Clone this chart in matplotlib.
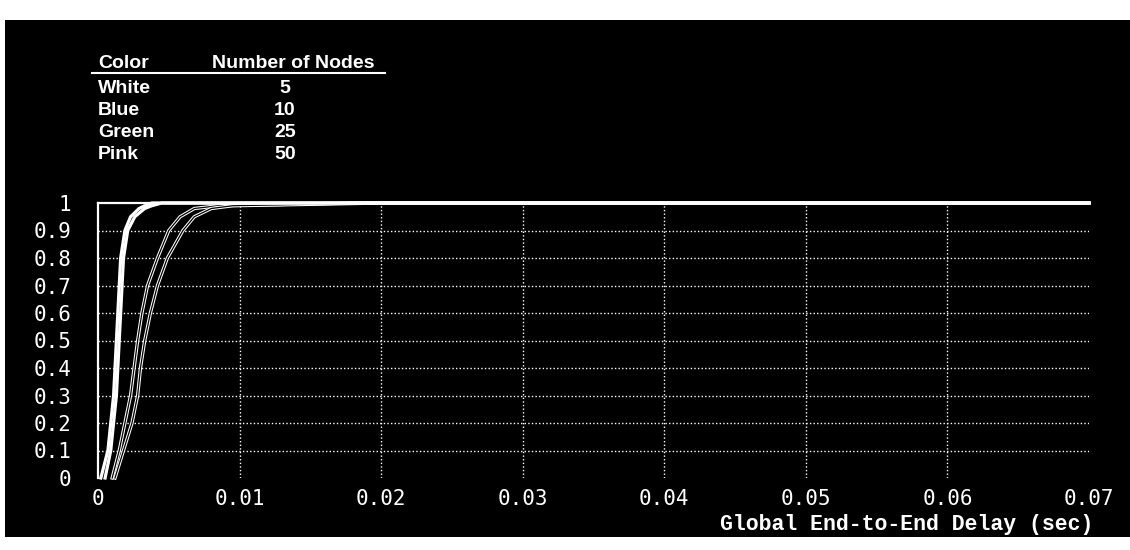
import matplotlib
matplotlib.use("Agg")
import matplotlib.pyplot as plt
from matplotlib.patches import Rectangle
from matplotlib.lines import Line2D

# cumulative fraction of packets vs. global end-to-end delay (sec)
cdf_levels = [0, 0.1, 0.2, 0.3, 0.4, 0.5, 0.6, 0.7, 0.8, 0.9, 0.95, 0.98, 0.99, 1.0, 1.0]
delay_white = [0.0002, 0.0007, 0.0009, 0.0011, 0.0012, 0.0013, 0.0014, 0.0015, 0.0016,
               0.0019, 0.0023, 0.0029, 0.0033, 0.0038, 0.07]
delay_blue = [0.0005, 0.0009, 0.0011, 0.0013, 0.0014, 0.0015, 0.0016, 0.0017, 0.0018,
              0.0021, 0.0026, 0.0033, 0.0038, 0.0045, 0.07]
delay_green = [0.0010, 0.0015, 0.0019, 0.0023, 0.00255, 0.0028, 0.0031, 0.0035, 0.0042,
               0.0050, 0.0058, 0.0068, 0.0085, 0.018, 0.07]
delay_pink = [0.0012, 0.0018, 0.0024, 0.0028, 0.0030, 0.0033, 0.0037, 0.0042, 0.0049,
              0.0060, 0.0068, 0.0080, 0.0095, 0.020, 0.07]

legend_colors = ["White", "Blue", "Green", "Pink"]
legend_nodes = ["5", "10", "25", "50"]

x_ticks = [0, 0.01, 0.02, 0.03, 0.04, 0.05, 0.06, 0.07]
x_ticklabels = ["0", "0.01", "0.02", "0.03", "0.04", "0.05", "0.06", "0.07"]
y_ticks = [0, 0.1, 0.2, 0.3, 0.4, 0.5, 0.6, 0.7, 0.8, 0.9, 1.0]
y_ticklabels = ["0", "0.1", "0.2", "0.3", "0.4", "0.5", "0.6", "0.7", "0.8", "0.9", "1"]

W, H = 1130, 550
fig = plt.figure(figsize=(W / 100, H / 100), dpi=100, facecolor="white")

def fx(px):
    return px / W

def fy(py):
    return 1 - py / H

# black screen area behind everything
fig.patches.append(Rectangle((fx(5), fy(537)), 1 - fx(5), fy(20) - fy(537),
                             transform=fig.transFigure, facecolor="black",
                             edgecolor="none", zorder=-5))

ax = fig.add_axes([fx(98), fy(478), fx(1089) - fx(98), fy(203) - fy(478)])
ax.set_facecolor("black")

ax.set_xlim(0, 0.07)
ax.set_ylim(0, 1.0)

ax.grid(True, color="white", linestyle=(0, (1, 1.6)), linewidth=1.0)
ax.set_axisbelow(True)

ax.plot(delay_white, cdf_levels, color="white", lw=2.3, clip_on=False, zorder=3)
ax.plot(delay_blue, cdf_levels, color="white", lw=2.3, clip_on=False, zorder=3)
for d in (delay_green, delay_pink):
    ax.plot(d, cdf_levels, color="white", lw=2.4, clip_on=False, zorder=2)
    ax.plot(d, cdf_levels, color="black", lw=0.9, clip_on=False, zorder=2)

for side in ("right", "bottom"):
    ax.spines[side].set_visible(False)
for side in ("left", "top"):
    ax.spines[side].set_color("white")
    ax.spines[side].set_linewidth(1.6)

ax.set_xticks(x_ticks)
ax.set_xticklabels(x_ticklabels)
ax.set_yticks(y_ticks)
ax.set_yticklabels(y_ticklabels)
ax.tick_params(axis="both", length=0, colors="white", labelsize=15)
ax.tick_params(axis="x", pad=8)
ax.tick_params(axis="y", pad=19)
for lab in ax.get_xticklabels() + ax.get_yticklabels():
    lab.set_family("DejaVu Sans Mono")

# no grid lines on the outer edges (x = 0, x = 0.07, y = 0, y = 1)
xgl = ax.get_xgridlines()
ygl = ax.get_ygridlines()
for g in (xgl[0], xgl[-1], ygl[0], ygl[-1]):
    g.set_visible(False)

ax.set_xlabel("Global End-to-End Delay (sec)", color="white", fontsize=15.5,
              family="Liberation Mono", fontweight="bold", ha="right", va="top")
ax.xaxis.set_label_coords(1.004, -0.13)

# color / node-count key
key_font = dict(color="white", fontsize=14, fontweight="bold",
                family="Liberation Sans")
fig.text(fx(98), fy(68), "Color", ha="left", va="baseline", **key_font)
fig.text(fx(212), fy(68), "Number of Nodes", ha="left", va="baseline", **key_font)
fig.lines.append(Line2D([fx(92), fx(385)], [fy(73), fy(73)], transform=fig.transFigure,
                        color="white", lw=1.5))
row_base = [93, 115, 137, 159]
for name, n, yb in zip(legend_colors, legend_nodes, row_base):
    fig.text(fx(98), fy(yb), name, ha="left", va="baseline", **key_font)
    fig.text(fx(285), fy(yb), n, ha="center", va="baseline", **key_font)

fig.savefig("out.png", dpi=100, facecolor="white")
